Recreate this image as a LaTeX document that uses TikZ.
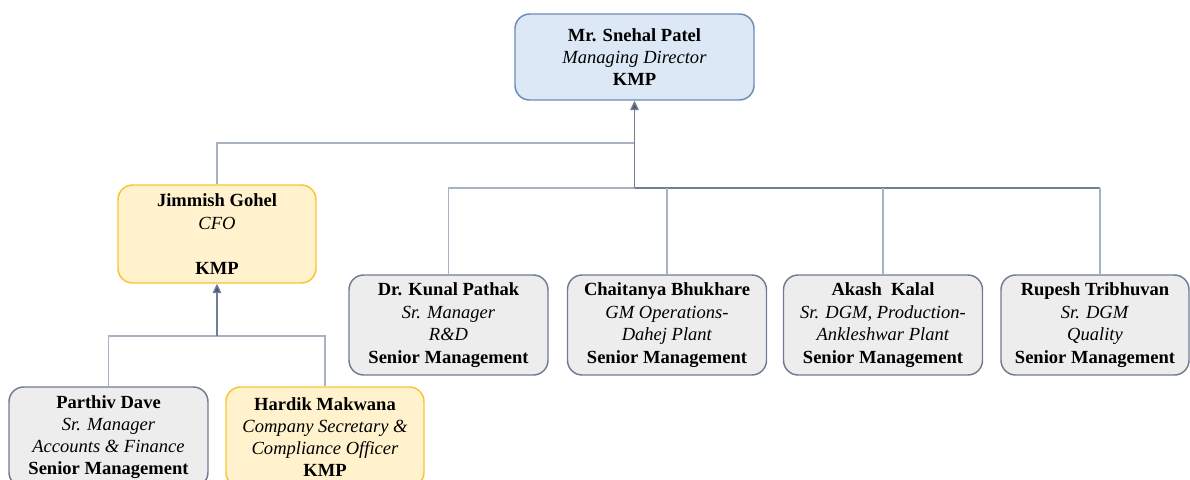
\documentclass[tikz,border=0pt]{standalone}
\usepackage{fontspec}
\setmainfont{Liberation Serif}
\usetikzlibrary{arrows.meta}
\definecolor{mdfill}{RGB}{220,232,245}
\definecolor{mdline}{RGB}{108,140,182}
\definecolor{kmpfill}{RGB}{255,242,204}
\definecolor{kmpline}{RGB}{250,196,50}
\definecolor{smfill}{RGB}{237,237,237}
\definecolor{smline}{RGB}{112,124,148}
\definecolor{linklight}{RGB}{168,178,194}
\definecolor{linkdark}{RGB}{112,126,152}
\definecolor{tipcol}{RGB}{78,92,118}
\tikzset{
  card/.style={rounded corners=11pt, line width=1.1pt, align=center,
    inner sep=0pt, font=\fontsize{13.9}{17}\selectfont},
  mdbox/.style={card, draw=mdline, fill=mdfill, minimum width=179.25pt, minimum height=64.5pt,
    font=\fontsize{13.9}{16.2}\selectfont},
  kmpbox/.style={card, draw=kmpline, fill=kmpfill, minimum width=148.5pt, minimum height=73.5pt},
  smbox/.style={card, draw=smline, fill=smfill, minimum width=149.25pt, minimum height=75pt},
  lowrow/.style={font=\fontsize{13.9}{16.4}\selectfont},
  link/.style={draw=linklight, line width=0.9pt},
  linkd/.style={draw=linkdark, line width=0.9pt},
  uparrow/.style={linkd, -{Triangle[width=6.5pt,length=7pt,fill=tipcol]}},
}
\begin{document}
\begin{tikzpicture}[x=0.75pt, y=-0.75pt]
  \useasboundingbox (0,0) rectangle (1190,479);
  \clip (0,0) rectangle (1190,479);

  % managing director
  \node[mdbox] (md) at (634.5,57)
    {\rule{0pt}{3pt}\textbf{Mr. Snehal Patel}\\\textit{Managing Director}\\\textbf{KMP}};

  % CFO branch
  \node[kmpbox] (cfo) at (217,234)
    {\textbf{Jimmish Gohel}\\\textit{CFO}\\[17pt]\textbf{KMP}};

  % senior management row
  \node[smbox] (kp) at (448.5,325)
    {\textbf{Dr. Kunal Pathak}\\\textit{Sr. Manager}\\\textit{R\&D}\\\textbf{Senior Management}};
  \node[smbox] (cb) at (667,325)
    {\textbf{Chaitanya Bhukhare}\\\textit{GM Operations-}\\\textit{Dahej Plant}\\\textbf{Senior Management}};
  \node[smbox] (ak) at (883,325)
    {\textbf{Akash\ \ Kalal}\\\textit{Sr. DGM, Production-}\\\textit{Ankleshwar Plant}\\\textbf{Senior Management}};
  \node[smbox, minimum width=141pt] (rt) at (1095,325)
    {\textbf{Rupesh Tribhuvan}\\\textit{Sr. DGM}\\\textit{Quality}\\\textbf{Senior Management}};

  % reports of the CFO
  \node[smbox, lowrow] (pd) at (108.5,437)
    {\textbf{Parthiv Dave}\\\textit{Sr. Manager}\\\textit{Accounts \& Finance}\\\textbf{Senior Management}};
  \node[kmpbox, lowrow, minimum height=75pt] (hm) at (325,437)
    {\textbf{Hardik Makwana}\\\textit{Company Secretary \&}\\\textit{Compliance Officer}\\\textbf{KMP}};

  % junction points
  \coordinate (bus) at (634.5,188);
  \coordinate (cfobus) at (217,336);
  \coordinate (rttop) at (1100,275);

  % links to the managing director
  \draw[link] (cfo.north) |- (md.south |- 0,143);
  \draw[link] (kp.north) |- (bus);
  \draw[linkd] (bus) -- (rttop |- bus);
  \draw[link] (cb.north) -- (cb.north |- bus);
  \draw[link] (ak.north) -- (ak.north |- bus);
  \draw[link] (rttop) -- (rttop |- bus);
  \draw[uparrow] (bus) -- (md.south);

  % links to the CFO
  \draw[link] (pd.north) |- (hm.north |- cfobus) -- (hm.north);
  \draw[uparrow] (cfobus) -- (cfo.south);
\end{tikzpicture}
\end{document}
